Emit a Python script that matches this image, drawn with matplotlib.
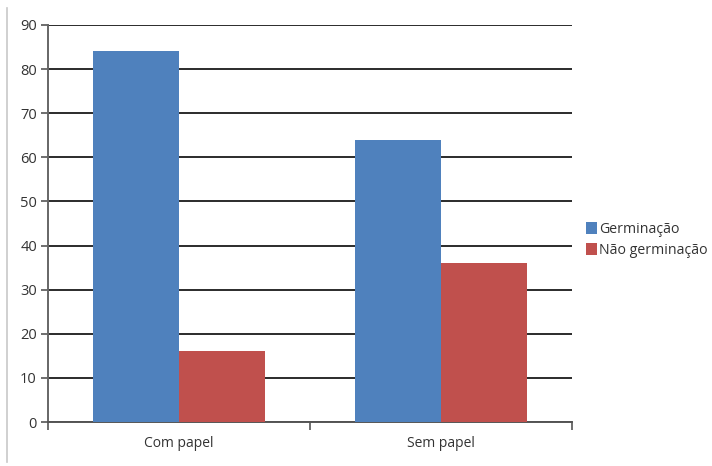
import matplotlib
matplotlib.use("Agg")
import matplotlib.pyplot as plt
import numpy as np
from matplotlib.lines import Line2D

categories = ["Com papel", "Sem papel"]
series_names = ["Germinação", "Não germinação"]
germinacao = [84, 64]
nao_germinacao = [16, 36]
yticks = [0, 10, 20, 30, 40, 50, 60, 70, 80, 90]

colors = ["#4F81BD", "#C0504D"]

plt.rcParams['font.family'] = ['Open Sans', 'DejaVu Sans']

fig = plt.figure(figsize=(7.12, 4.66), dpi=100)
W, H = 712, 466
ax = fig.add_axes([48 / W, (H - 422) / H, (572 - 48) / W, (422 - 25) / H])

x = np.arange(len(categories))
bw = 0.33
ax.bar(x - bw / 2, germinacao, bw, color=colors[0], label=series_names[0], zorder=3)
ax.bar(x + bw / 2, nao_germinacao, bw, color=colors[1], label=series_names[1], zorder=3)

ax.set_xlim(-0.5, 1.5)
ax.set_ylim(0, 90)
ax.set_yticks(yticks)
ax.yaxis.grid(True, color="#2b2b2b", linewidth=1.4, zorder=1)
ax.set_axisbelow(True)

ax.set_xticks([-0.5, 0.5, 1.5], minor=False)
ax.set_xticklabels([])
ax.set_xticks(x, minor=True)
ax.set_xticklabels(categories, minor=True)
ax.tick_params(axis="x", which="major", length=6, width=1.2, color="#555555", direction="out")
ax.tick_params(axis="x", which="minor", length=0, pad=10, labelsize=10, labelcolor="#333333")
ax.tick_params(axis="y", length=5, width=1.2, color="#555555", labelsize=10.5, labelcolor="#333333", pad=3)

for s in ["top", "right"]:
    ax.spines[s].set_visible(False)
ax.spines["left"].set_color("#666666")
ax.spines["left"].set_linewidth(1.4)
ax.spines["bottom"].set_color("#555555")
ax.spines["bottom"].set_linewidth(1.4)

fig.legend(loc="center left", bbox_to_anchor=(576 / W, (H - 240) / H), frameon=False,
           fontsize=10.2, handlelength=0.8, handleheight=0.9, handletextpad=0.15,
           labelspacing=0.45, labelcolor="#333333", borderpad=0.2)

fig.add_artist(Line2D([7 / W, 7 / W], [(H - 462) / H, (H - 8) / H], color="#c8c8c8", linewidth=1.2,
                      transform=fig.transFigure))

fig.savefig("out.png", dpi=100, facecolor="white")
